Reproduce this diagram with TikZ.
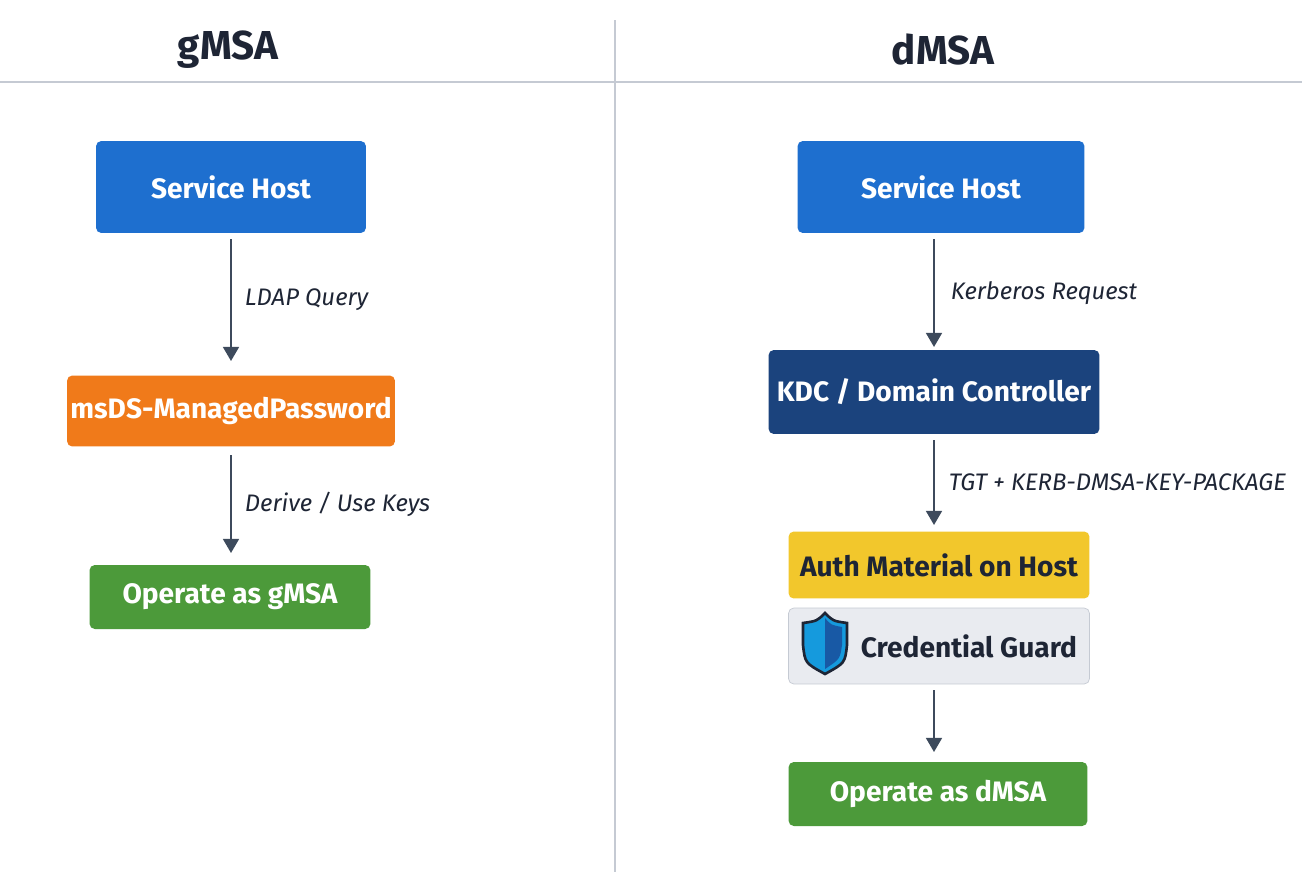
\documentclass[tikz,border=0pt]{standalone}
\usepackage{fontspec}
\setmainfont{Fira Sans}
\usetikzlibrary{arrows.meta}
\definecolor{hostblue}{HTML}{1E6FCF}
\definecolor{kdcnavy}{HTML}{1B437D}
\definecolor{pwdorange}{HTML}{F07A1A}
\definecolor{opgreen}{HTML}{4C9A3A}
\definecolor{authyellow}{HTML}{F2C72C}
\definecolor{guardgray}{HTML}{E9EBF0}
\definecolor{guardline}{HTML}{C5CAD3}
\definecolor{flowline}{HTML}{3D4A5C}
\definecolor{inkdark}{HTML}{1E2535}
\tikzset{
  box/.style={rounded corners=3pt, inner sep=0pt, text=white, font=\bfseries\fontsize{16}{19}\selectfont},
  flow/.style={draw=flowline, line width=1.2pt, -{Triangle[length=8pt,width=9pt]}},
  note/.style={anchor=west, text=inkdark, font=\itshape\fontsize{13.6}{16}\selectfont},
  head/.style={text=inkdark, font=\bfseries\fontsize{23}{27}\selectfont}
}
\begin{document}
\begin{tikzpicture}[x=0.02cm, y=-0.02cm]
\useasboundingbox (0,0) rectangle (1302,872);
\fill[white] (0,0) rectangle (1302,872);
\draw[guardline, line width=0.8pt] (0,82) -- (1302,82);
\draw[guardline, line width=0.8pt] (615,20) -- (615,872);
\node[head] (gtitle) at (228,50) {gMSA};
\node[head] (dtitle) at (943,50) {dMSA};
% gMSA side
\node[box, fill=hostblue, minimum width=5.4cm, minimum height=1.84cm] (ghost) at (231,187) {Service Host};
\node[box, fill=pwdorange, minimum width=6.56cm, minimum height=1.42cm] (gpwd) at (231,411) {msDS-ManagedPassword};
\node[box, fill=opgreen, minimum width=5.62cm, minimum height=1.28cm] (gop) at (230,597) {Operate as gMSA};
\draw[flow] (231,239) -- (231,361) node[note, midway, xshift=0.14cm] {LDAP Query};
\draw[flow] (231,455) -- (231,553) node[note, midway, xshift=0.14cm] {Derive / Use Keys};
% dMSA side
\node[box, fill=hostblue, minimum width=5.74cm, minimum height=1.84cm] (dhost) at (941,187) {Service Host};
\node[box, fill=kdcnavy, minimum width=6.62cm, minimum height=1.68cm] (dkdc) at (934,392) {KDC / Domain Controller};
\node[box, fill=authyellow, text=inkdark, minimum width=6.02cm, minimum height=1.34cm] (dauth) at (939,565) {Auth Material on Host};
\node[box, fill=guardgray, draw=guardline, text=inkdark, minimum width=6.02cm, minimum height=1.52cm] (dguard) at (939,646) {\hspace{1.2cm}Credential Guard};
\node[box, fill=opgreen, minimum width=5.98cm, minimum height=1.28cm] (dop) at (938,794) {Operate as dMSA};
\draw[flow] (934,239) -- (934,347) node[note, midway, xshift=0.2cm] {Kerberos Request};
\draw[flow] (934,440) -- (934,525) node[note, midway, xshift=0.16cm] {TGT + KERB-DMSA-KEY-PACKAGE};
\draw[flow] (934,690) -- (934,752);
% shield
\coordinate (shield) at (825,645);
\filldraw[fill=hostblue!70!cyan, draw=inkdark, line width=1.5pt]
  ([shift={(-22,-22)}]shield) .. controls ([shift={(-8,-24)}]shield) .. ([shift={(0,-32)}]shield)
  .. controls ([shift={(8,-24)}]shield) .. ([shift={(22,-22)}]shield)
  -- ([shift={(22,0)}]shield) .. controls ([shift={(20,18)}]shield) .. ([shift={(0,29)}]shield)
  .. controls ([shift={(-20,18)}]shield) .. ([shift={(-22,0)}]shield) -- cycle;
\fill[hostblue!80!black] ([shift={(0,-27)}]shield) .. controls ([shift={(6,-20)}]shield) .. ([shift={(17,-18)}]shield)
  -- ([shift={(17,0)}]shield) .. controls ([shift={(15,14)}]shield) .. ([shift={(0,24)}]shield) -- cycle;
\end{tikzpicture}
\end{document}
